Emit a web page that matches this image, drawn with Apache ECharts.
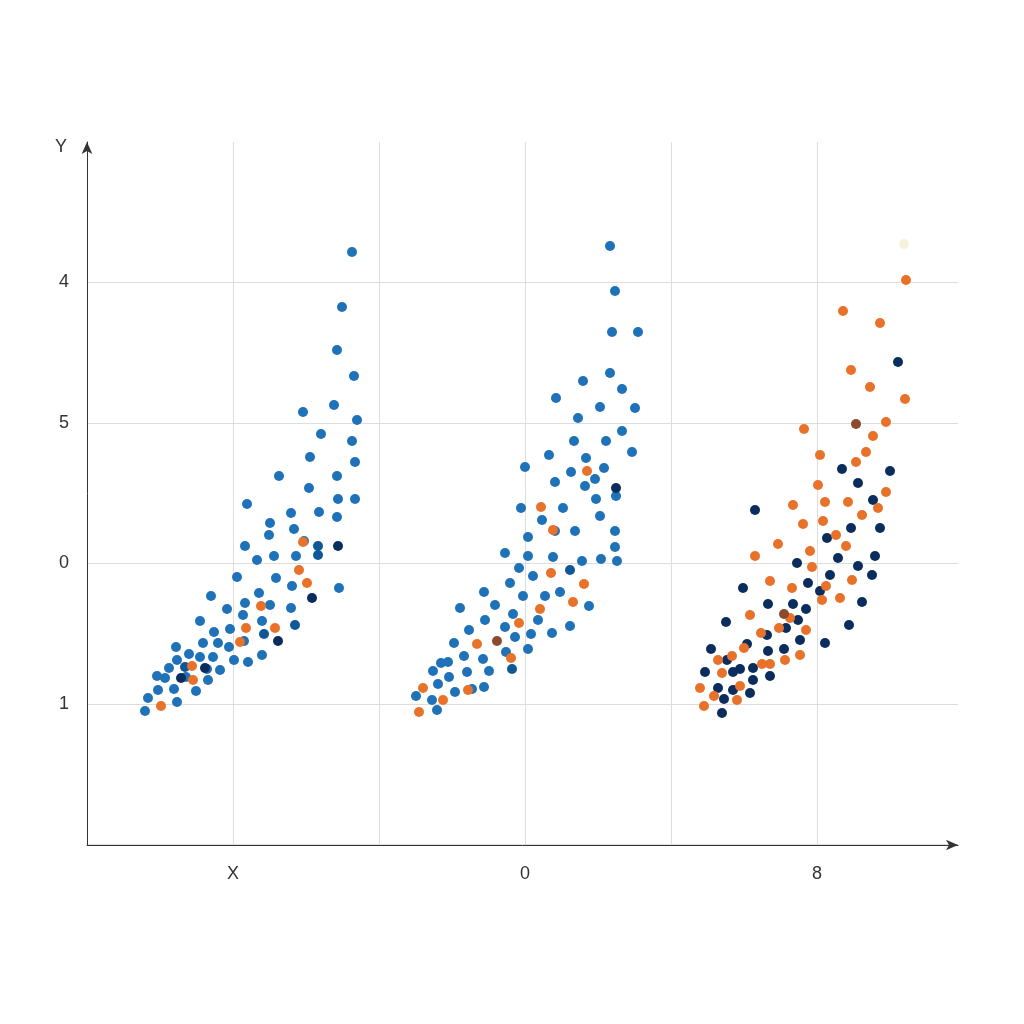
<!DOCTYPE html>
<html>
<head>
<meta charset="utf-8">
<script src="https://cdn.jsdelivr.net/npm/echarts@6/dist/echarts.min.js"></script>
<style>html,body{margin:0;padding:0;background:#fff}#chart{width:1024px;height:1024px}</style>
</head>
<body>
<div id="chart"></div>
<script>
// tick labels as they appear in the picture
var xLabels = {233: 'X', 525: '0', 817: '8'};
var yLabels = {282.5: '4', 423: '5', 563.5: '0', 704: '1'};

// points [x, y]
var bluePts = [
  [352,252],[342,307],[337,350],[354,376],[303,412],[334,405],[357,420],[321,434],[352,441],[310,457],[355,462],[337,476],[279,476],[309,488],[247,504],[338,499],[355,499],[270,523],[291,513],[319,512],[337,517],[245,546],[269,535],[294,529],[304,541],[257,560],[237,577],[274,556],[296,556],[276,578],[292,586],[211,596],[245,603],[227,609],[259,593],[270,605],[291,608],[200,621],[230,629],[214,632],[262,621],[243,615],[176,647],[189,654],[218,643],[203,643],[229,647],[244,641],[262,655],[169,668],[177,660],[200,657],[213,657],[234,660],[248,662],[157,676],[165,678],[186,677],[207,669],[220,670],[158,690],[174,689],[196,691],[208,680],[148,698],[177,702],[145,711],[339,588],
  [610,246],[615,291],[612,332],[638,332],[610,373],[583,381],[622,389],[556,398],[600,407],[635,408],[578,418],[622,431],[574,441],[606,441],[549,455],[632,452],[525,467],[586,458],[571,472],[604,468],[555,482],[595,479],[585,486],[521,508],[563,508],[596,499],[616,496],[600,516],[542,520],[528,537],[555,531],[575,531],[615,531],[505,553],[528,556],[553,557],[601,559],[582,561],[617,561],[615,547],[519,568],[484,592],[510,583],[533,576],[545,596],[560,592],[460,608],[495,605],[523,596],[589,606],[513,614],[538,620],[552,633],[570,626],[485,620],[469,630],[454,643],[505,627],[515,637],[531,634],[448,662],[464,656],[483,659],[506,652],[528,649],[433,671],[441,663],[449,677],[467,672],[489,671],[438,684],[455,692],[472,689],[484,687],[416,696],[437,710],[432,700]
];
var midBluePts = [[295,625],[264,634],[318,555],[185,667],[318,546],[570,570],[512,669]];
var navyPts = [
  [181,678],[312,598],[278,641],[338,546],[205,668],[616,488],
  [898,362],[842,469],[890,471],[755,510],[858,483],[827,538],[797,563],[838,558],[858,566],[875,556],[880,528],[851,528],[873,500],[830,575],[872,575],[743,588],[768,604],[793,604],[806,609],[808,583],[862,602],[820,591],[849,625],[726,622],[747,644],[767,635],[786,628],[800,640],[825,643],[711,649],[727,660],[740,669],[753,668],[768,651],[784,649],[705,672],[733,672],[753,680],[770,676],[718,688],[733,690],[750,693],[724,699],[722,713],[798,620]
];
var orangePts = [
  [303,542],[299,570],[307,583],[261,606],[246,628],[275,628],[240,642],[192,666],[193,680],[161,706],
  [587,471],[541,507],[553,530],[551,573],[584,584],[573,602],[540,609],[519,623],[477,644],[511,658],[423,688],[468,690],[443,700],[419,712],
  [906,280],[843,311],[880,323],[851,370],[870,387],[905,399],[804,429],[886,422],[873,436],[866,452],[820,455],[856,462],[818,485],[793,505],[825,502],[848,502],[886,492],[878,508],[862,515],[803,524],[823,521],[778,544],[755,556],[810,551],[846,546],[836,535],[770,581],[792,588],[826,586],[852,580],[822,600],[840,598],[750,615],[790,618],[779,628],[761,633],[806,630],[744,648],[800,655],[718,660],[732,656],[770,664],[785,660],[700,688],[722,673],[740,686],[762,664],[714,696],[704,706],[737,700],[812,567]
];
var brownPts = [[856,424],[784,614],[497,641]];
var palePts = [[904,244]];

var chart = echarts.init(document.getElementById('chart'));

function sc(name, data, color) {
  return {name: name, type: 'scatter', data: data, symbolSize: 10,
    itemStyle: {color: color, opacity: 1}};
}

chart.setOption({
  animation: false,
  grid: {left: 87, right: 66, top: 142, bottom: 179},
  xAxis: {
    type: 'value', min: 87, max: 958, interval: 146,
    axisLine: {onZero: false, symbol: ['none', 'arrow'], symbolSize: [8, 12], lineStyle: {color: '#333'}},
    axisTick: {show: false},
    splitLine: {showMinLine: false, showMaxLine: false, lineStyle: {color: '#ddd'}},
    axisLabel: {color: '#333', fontSize: 18, margin: 20,
      formatter: function (v) { return xLabels[Math.round(v)] || ''; }}
  },
  yAxis: {
    type: 'value', inverse: true, min: 142, max: 845, interval: 140.5,
    name: 'Y', nameLocation: 'start', nameGap: -14,
    nameTextStyle: {color: '#333', fontSize: 18, align: 'right', padding: [0, 20, 0, 0]},
    axisLine: {symbol: ['none', 'arrow'], symbolSize: [8, 12], lineStyle: {color: '#333'}},
    axisTick: {show: false},
    splitLine: {showMinLine: false, showMaxLine: false, lineStyle: {color: '#ddd'}},
    axisLabel: {color: '#333', fontSize: 18, margin: 18,
      formatter: function (v) { return yLabels[Math.round(v * 2) / 2] || ''; }}
  },
  series: [
    sc('blue', bluePts, '#1f72b8'),
    sc('midblue', midBluePts, '#0f5796'),
    sc('navy', navyPts, '#0b2d5e'),
    sc('orange', orangePts, '#e8722a'),
    sc('brown', brownPts, '#8a4b2e'),
    sc('pale', palePts, '#f5f2dc')
  ]
});
</script>
</body>
</html>
